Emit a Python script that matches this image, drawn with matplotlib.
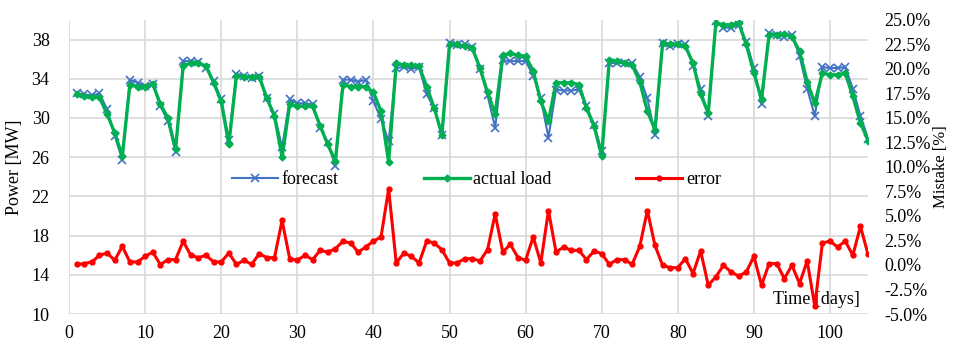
"""
plot.py
Forecast vs actual load with the forecast error on a second axis
"""

import matplotlib
matplotlib.use('Agg')
import matplotlib.pyplot as plt
from matplotlib.ticker import FuncFormatter, MultipleLocator

# Dados (dias 1..105)
dias = list(range(1, 106))

previsao = [
    32.5, 32.4, 32.3, 32.5, 30.9, 28.2, 25.7,
    33.9, 33.6, 33.3, 33.5, 31.2, 29.7, 26.5,
    35.8, 35.8, 35.7, 35.1, 33.8, 31.9, 27.8,
    34.5, 34.3, 34.1, 34.3, 32.0, 30.4, 27.0,
    31.9, 31.5, 31.5, 31.4, 29.0, 27.5, 25.1,
    33.9, 33.9, 33.7, 33.9, 31.7, 29.9, 27.6,
    35.1, 35.2, 35.0, 35.2, 32.4, 31.0, 28.3,
    37.6, 37.4, 37.5, 37.2, 35.0, 32.3, 29.0,
    35.9, 35.8, 35.8, 35.8, 34.3, 32.0, 28.0,
    32.9, 32.8, 32.8, 32.9, 31.2, 29.3, 26.6,
    35.6, 35.6, 35.6, 35.6, 34.2, 32.0, 28.3,
    37.6, 37.3, 37.5, 37.5, 35.3, 33.0, 30.2,
    39.9, 39.2, 39.2, 39.5, 37.8, 35.1, 31.4,
    38.7, 38.5, 38.3, 38.5, 36.3, 33.0, 30.2,
    35.2, 35.1, 35.1, 35.2, 33.0, 30.2, 27.9,
]

carga_real = [
    32.4, 32.2, 32.1, 32.1, 30.4, 28.5, 26.1,
    33.4, 33.2, 33.2, 33.5, 31.4, 30.0, 26.8,
    35.3, 35.6, 35.6, 35.3, 33.6, 31.7, 27.3,
    34.3, 34.2, 34.2, 34.2, 32.0, 30.2, 26.0,
    31.4, 31.2, 31.2, 31.2, 29.2, 27.3, 25.6,
    33.4, 33.2, 33.2, 33.2, 32.6, 30.7, 25.5,
    35.6, 35.4, 35.4, 35.3, 33.2, 31.0, 28.3,
    37.5, 37.5, 37.3, 37.1, 35.1, 32.6, 30.4,
    36.4, 36.6, 36.4, 36.3, 34.8, 31.7, 29.7,
    33.6, 33.6, 33.6, 33.4, 31.0, 29.2, 26.1,
    35.9, 35.8, 35.6, 35.4, 33.7, 30.7, 28.8,
    37.6, 37.5, 37.5, 37.3, 35.6, 32.4, 30.5,
    39.7, 39.5, 39.5, 39.7, 37.5, 34.6, 31.9,
    38.5, 38.5, 38.6, 38.3, 36.8, 33.7, 31.5,
    34.6, 34.4, 34.4, 34.6, 32.2, 29.5, 27.7,
]

erro = [
    0.07, 0.14, 0.31, 0.99, 1.22, 0.48, 1.90,
    0.31, 0.31, 0.88, 1.32, 0.04, 0.55, 0.55,
    2.41, 0.99, 0.75, 0.99, 0.31, 0.31, 1.22,
    0.07, 0.48, 0.07, 1.15, 0.75, 0.75, 4.54,
    0.65, 0.48, 0.99, 0.55, 1.49, 1.32, 1.66,
    2.42, 2.24, 1.32, 1.83, 2.44, 2.85, 7.75,
    0.21, 1.22, 0.88, 0.21, 2.44, 2.24, 1.56,
    0.21, 0.21, 0.65, 0.65, 0.41, 1.56, 5.21,
    1.32, 2.10, 0.75, 0.48, 2.85, 0.21, 5.55,
    1.32, 1.83, 1.49, 1.49, 0.55, 1.43, 1.15,
    0.07, 0.55, 0.55, 0.07, 1.90, 5.55, 2.00,
    -0.03, -0.27, -0.27, 0.65, -0.87, 1.43, -2.06,
    -1.21, -0.03, -0.71, -1.14, -0.71, 0.88, -2.06,
    0.14, 0.14, -1.38, -0.03, -1.89, 0.41, -4.19,
    2.24, 2.44, 1.83, 2.44, 0.99, 3.93, 1.09,
]

AZUL = '#4472C4'
VERDE = '#00B050'
VERMELHO = '#FF0000'
GRADE = '#D9D9D9'

plt.rcParams['font.family'] = ['Liberation Serif', 'DejaVu Serif']
plt.rcParams['font.size'] = 13

fig = plt.figure(figsize=(9.56, 3.44), dpi=100)
ax = fig.add_axes([0.0722, 0.0872, 0.8358, 0.8548])

# Potencia (eixo esquerdo)
l_prev, = ax.plot(dias, previsao, color=AZUL, lw=1.5, marker='x', ms=6,
                  mew=1.2, label='forecast', zorder=3)
l_real, = ax.plot(dias, carga_real, color=VERDE, lw=2.4, marker='D', ms=3.5,
                  label='actual load', zorder=4)

ax.set_xlim(0, 105)
ax.set_ylim(10, 40)
ax.set_xticks(range(0, 101, 10))
ax.set_yticks(range(10, 39, 4))
ax.grid(True, color=GRADE, lw=1.2)
ax.set_axisbelow(True)
for s in ax.spines.values():
    s.set_visible(False)
ax.tick_params(axis='x', length=0, pad=8)
ax.tick_params(axis='y', length=0, pad=14)
ax.set_ylabel('Power [MW]', labelpad=6)

# Erro (eixo direito)
ax2 = ax.twinx()
l_erro, = ax2.plot(dias, erro, color=VERMELHO, lw=2.2, marker='o', ms=3.5,
                   label='error', zorder=5)
ax2.set_ylim(-5, 25)
ax2.yaxis.set_major_locator(MultipleLocator(2.5))
ax2.yaxis.set_major_formatter(FuncFormatter(lambda v, p: f'{v:.1f}%'))
for s in ax2.spines.values():
    s.set_visible(False)
ax2.tick_params(axis='y', length=0, pad=12)
ax2.set_ylabel('Mistake [%]', labelpad=1, fontsize=12)

ax.text(0.99, 0.048, 'Time [days]', transform=ax.transAxes,
        ha='right', va='center', zorder=6)

fig.legend([l_prev, l_real, l_erro], ['forecast', 'actual load', 'error'],
           loc='center left', bbox_to_anchor=(232 / 956, 1 - 180 / 344),
           ncol=3, frameon=False, handlelength=2.55, handletextpad=0.2,
           columnspacing=4.7, borderpad=0, borderaxespad=0)

fig.savefig('out.png', dpi=100)
